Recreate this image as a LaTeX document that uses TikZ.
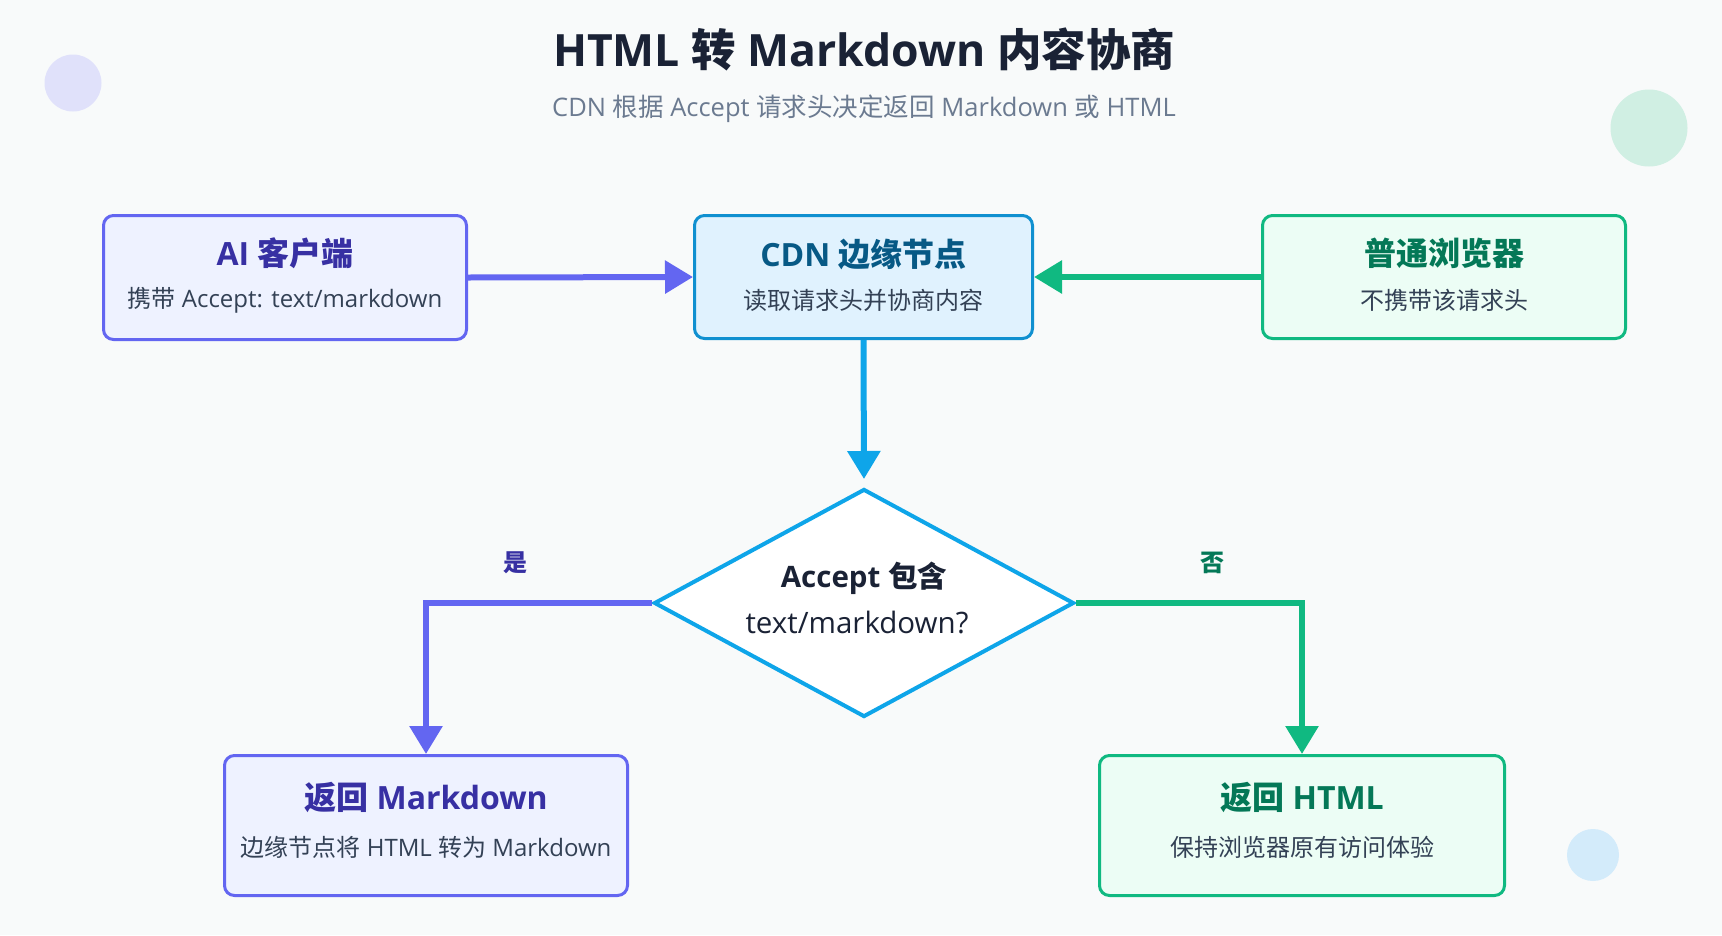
\documentclass[tikz,border=0pt]{standalone}
\usepackage{fontspec}
\setmainfont{Open Sans}
\newfontfamily\cjk{Noto Sans CJK SC}
\usetikzlibrary{arrows.meta,shapes.geometric}
\definecolor{bgc}{HTML}{F8FAFA}
\definecolor{titlec}{HTML}{1A2235}
\definecolor{subc}{HTML}{6B7A90}
\definecolor{bodyc}{HTML}{334155}
\definecolor{indb}{HTML}{6366F1}
\definecolor{indf}{HTML}{EEF2FF}
\definecolor{indt}{HTML}{3730A3}
\definecolor{skyb}{HTML}{1090D0}
\definecolor{skyl}{HTML}{0EA5E9}
\definecolor{skyf}{HTML}{E0F2FE}
\definecolor{skyt}{HTML}{075985}
\definecolor{emb}{HTML}{10B981}
\definecolor{emf}{HTML}{ECFDF5}
\definecolor{emt}{HTML}{047857}
\definecolor{cira}{HTML}{E0E1FA}
\definecolor{cirb}{HTML}{D0EFE3}
\definecolor{circ}{HTML}{D3EBFA}
\tikzset{
  card/.style={draw, line width=3pt, rounded corners=10pt, inner sep=0pt, minimum height=#1},
  cardtitle/.style={inner sep=0pt, font=\fontsize{32}{38}\selectfont\bfseries},
  cardsub/.style={inner sep=0pt, text=bodyc, font=\fontsize{24}{29}\selectfont},
  arr/.style={line width=6pt, -{Triangle[length=28pt,width=32pt]}},
  yesno/.style={inner sep=0pt, font=\fontsize{24}{28}\selectfont\bfseries\cjk},
}
\begin{document}
\begin{tikzpicture}[x=1pt,y=-1pt]
\useasboundingbox (0,0) rectangle (1722,935);
\fill[bgc] (0,0) rectangle (1722,935);
% decorative circles
\fill[cira] (73,83) circle (28.5pt);
\fill[cirb] (1649,128) circle (38.5pt);
\fill[circ] (1593,855) circle (26pt);
% heading
\node[inner sep=0pt, text=titlec, font=\fontsize{44.5}{52}\selectfont\bfseries] (title) at (864,49) {HTML {\cjk 转} Markdown {\cjk 内容协商}};
\node[inner sep=0pt, text=subc, font=\fontsize{25.5}{30}\selectfont] (subtitle) at (864,109) {CDN {\cjk 根据} Accept {\cjk 请求头决定返回} Markdown {\cjk 或} HTML};
% top row cards
\node[card=124pt, minimum width=363pt, draw=indb, fill=indf] (ai) at (285,277.5) {};
\node[cardtitle, text=indt] (aiT) at (285,253) {AI {\cjk 客户端}};
\node[cardsub] (aiS) at (285,300) {{\cjk 携带} Accept: text/markdown};
\node[card=123pt, minimum width=338pt, draw=skyb, fill=skyf] (cdn) at (863.5,277) {};
\node[cardtitle, text=skyt] (cdnT) at (863.5,254) {CDN {\cjk 边缘节点}};
\node[cardsub, font=\fontsize{24}{29}\selectfont\cjk] (cdnS) at (863.5,300) {读取请求头并协商内容};
\node[card=123pt, minimum width=363pt, draw=emb, fill=emf] (br) at (1444,277) {};
\node[cardtitle, text=emt, font=\fontsize{32}{38}\selectfont\bfseries\cjk] (brT) at (1444,253) {普通浏览器};
\node[cardsub, font=\fontsize{24}{29}\selectfont\cjk] (brS) at (1444,300) {不携带该请求头};
% decision
\node[diamond, draw=skyl, fill=white, line width=4pt, inner sep=0pt, minimum width=420pt, minimum height=228pt] (dec) at (864,603) {};
\node[inner sep=0pt, text=titlec, font=\fontsize{29.5}{35}\selectfont\bfseries] (decA) at (864,578) {Accept {\cjk 包含}};
\node[inner sep=0pt, text=titlec, font=\fontsize{29.5}{35}\selectfont] (decB) at (857,622) {text/markdown?};
% bottom cards
\node[card=140pt, minimum width=403pt, draw=indb, fill=indf] (md) at (426,825.5) {};
\node[cardtitle, text=indt] (mdT) at (426,798) {{\cjk 返回} Markdown};
\node[cardsub] (mdS) at (426,847) {{\cjk 边缘节点将} HTML {\cjk 转为} Markdown};
\node[card=140pt, minimum width=405pt, draw=emb, fill=emf] (ht) at (1302,825.5) {};
\node[cardtitle, text=emt] (htT) at (1302,798) {{\cjk 返回} HTML};
\node[cardsub, font=\fontsize{24}{29}\selectfont\cjk] (htS) at (1302,847) {保持浏览器原有访问体验};
% connectors
\draw[arr, draw=indb] (ai.east) -- (cdn.west);
\draw[arr, draw=emb] (br.west) -- (cdn.east);
\draw[arr, draw=skyl, shorten >=8pt] (cdn.south) -- (dec.north);
\draw[arr, draw=indb] (dec.west) -| (md.north);
\draw[arr, draw=emb] (dec.east) -| (ht.north);
% branch labels
\node[yesno, text=indt] (yes) at (515,563) {是};
\node[yesno, text=emt] (no) at (1212,563) {否};
\end{tikzpicture}
\end{document}
